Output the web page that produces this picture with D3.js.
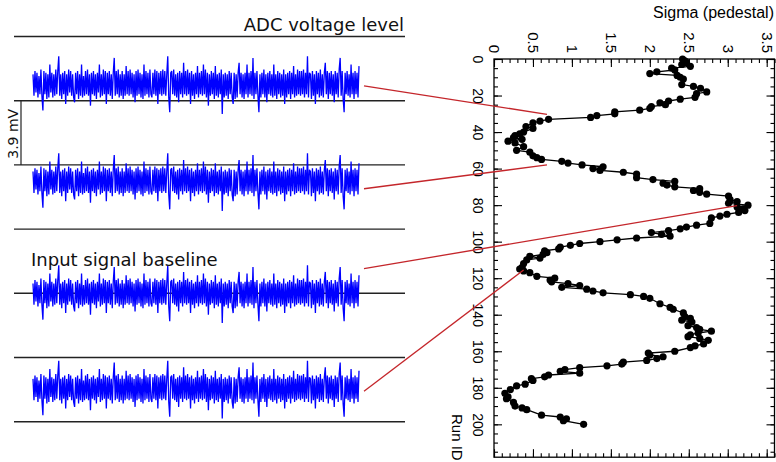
<!DOCTYPE html>
<meta charset="utf-8">
<style>
body { margin: 0; background: #fff; }
svg { display: block; }
.adc line { stroke: #222; stroke-width: 1.4px; }
.trace { fill: none; stroke: #0000ff; stroke-width: 1.3px; stroke-linejoin: bevel; }
.link { stroke: #c4262b; stroke-width: 1.3px; }
.frame { fill: none; stroke: #000; stroke-width: 1.3px; }
.axis path { display: none; }
.axis line { stroke: #000; stroke-width: 1.1px; }
.run-line { fill: none; stroke: #000; stroke-width: 1.3px; }
.lbl { font-family: "DejaVu Sans", sans-serif; font-size: 18px; fill: #111; }
.plbl { font-family: "Liberation Sans", Arial, sans-serif; fill: #000; }
</style>
<body>
<script src="https://d3js.org/d3.v7.min.js"></script>
<script>

// run scan
var runIds = [
  0,1,2,3,4,5,6,7,8,9,
  10,11,14,15,16,18,19,21,22,23,
  24,25,26,27,28,29,30,31,32,33,
  34,35,37,38,40,41,42,43,44,45,
  46,48,50,51,53,54,55,56,57,58,
  59,60,61,62,63,65,66,67,68,69,
  70,71,72,73,74,75,77,78,79,80,
  81,82,83,84,85,86,87,90,91,92,
  93,94,95,96,97,98,99,100,101,102,
  103,104,105,106,107,108,109,110,112,114,
  115,116,117,119,120,121,122,123,124,125,
  126,127,128,129,130,131,134,136,137,139,
  141,142,143,144,146,147,148,149,150,151,
  152,153,154,156,157,158,160,161,162,163,
  164,165,166,167,168,169,170,171,172,173,
  174,175,176,178,179,181,183,185,186,188,
  190,191,192,195,196,197,198,200];
var sigmas = [
  2.42,2.45,2.47,2.41,2.52,2.28,2.32,2.09,2.00,2.35,
  2.39,2.43,2.41,2.56,2.65,2.73,2.60,2.58,2.39,2.24,
  2.13,2.20,2.02,2.00,1.87,1.55,1.55,1.32,1.24,0.70,
  0.59,0.50,0.41,0.50,0.38,0.33,0.27,0.25,0.36,0.18,
  0.27,0.38,0.29,0.46,0.50,0.55,0.61,0.87,0.95,1.13,
  1.40,1.27,1.36,1.66,1.83,1.83,2.04,2.32,2.17,2.22,
  2.32,2.64,2.56,2.64,2.73,3.01,3.03,3.12,3.01,3.26,
  3.12,3.20,3.22,3.14,2.99,2.90,2.79,2.77,2.60,2.47,
  2.39,2.24,2.02,2.15,2.26,1.83,1.58,1.36,1.10,0.98,
  0.85,0.83,0.65,0.68,0.63,0.46,0.59,0.42,0.38,0.36,
  0.33,0.38,0.46,0.55,0.78,0.72,0.74,0.95,1.10,0.87,
  1.19,1.27,1.40,1.75,1.92,2.00,2.13,2.26,2.30,2.43,
  2.45,2.52,2.41,2.54,2.49,2.60,2.64,2.79,2.62,2.52,
  2.49,2.64,2.75,2.69,2.58,2.52,2.32,1.98,2.00,2.17,
  2.09,1.96,1.66,1.64,1.45,1.10,0.91,0.85,1.10,0.70,
  0.65,0.48,0.50,0.40,0.29,0.21,0.14,0.18,0.16,0.25,
  0.27,0.36,0.42,0.61,0.85,0.93,0.89,1.15];

var sigmaTicks = [0, 0.5, 1, 1.5, 2, 2.5, 3, 3.5];
var runTicks = [0, 20, 40, 60, 80, 100, 120, 140, 160, 180, 200];

// pedestal samples in 0.1 mV, the same waveform is shown in every trace
var noise = [
  6,-7,8,-5,7,-8,5,-6,9,-7,-16,8,-6,7,-9,6,-8,12,-5,7,-8,6,-7,9,-6,8,17,-7,6,-9,
  7,-6,8,-12,6,-7,9,-5,8,-7,6,-8,-11,7,-6,8,-9,6,-7,12,-8,5,-7,8,-6,9,-7,6,-13,7,
  -6,8,-7,6,-9,7,-5,12,-8,6,-7,9,-6,8,-12,7,-6,8,-7,6,-9,7,16,-7,8,-6,9,-8,6,-7,
  8,-9,6,-7,11,-6,8,-7,9,-6,7,-8,6,-11,8,-7,9,-6,7,-8,6,-9,12,-7,8,-6,7,-8,9,-6,
  -8,7,-6,9,-7,8,-12,7,-6,8,-7,9,-6,8,-7,6,17,-8,-17,7,8,-6,9,-7,6,-8,7,-11,8,-6,
  7,-8,13,-6,8,-7,9,-6,7,-12,8,-7,6,-9,7,-6,11,-8,7,-6,8,-7,12,-6,9,-8,7,-13,6,-7,
  8,-6,7,-9,11,-7,6,-8,7,-6,9,-18,6,-8,7,-7,6,-9,8,-6,7,-8,-12,7,-9,6,-8,7,13,-6,
  7,-8,6,-9,7,-6,12,-8,7,-6,8,-7,16,-9,7,-6,8,-7,-17,6,-8,7,-6,9,-8,6,-11,7,-6,8,
  -7,6,-8,12,-7,6,-9,8,-6,7,-8,6,-7,9,-12,6,-8,7,-6,8,-9,7,-6,11,-8,6,-7,9,-6,8,
  -7,8,-6,9,-8,7,-6,17,-8,7,6,-9,8,-7,6,-12,8,-6,7,-8,9,-7,6,-8,7,13,-6,8,-9,7,
  -6,8,-7,6,-11,8,-6,7,-8,9,16,-7,8,-9,-17,7,-6,8,-7,6,-8,12,-6,7,-9,8,-6,7,-8,11];

var adcLevels = [0, 3.9, 7.8, 11.7, 15.6, 19.5, 23.4];   // mV
var traceLevels = [20.5, 14.6, 7.8, 2.0];                // mV
var linkOffsets = [-0.1, -0.45, 1.5, -0.15];             // mV, start of the red link
var linkRuns = [30.3, 58, 80.3, 115.5];
var linkSigmas = [0.68, 0.68, 3.12, 0.38];

var width = 776, height = 462;

var svg = d3.select("body").append("svg")
    .attr("width", width)
    .attr("height", height);

// ---- left: traces ----
var v = d3.scaleLinear().domain([0, 23.4]).range([421.7, 36.5]);
var tx = d3.scaleLinear().domain([0, noise.length - 1]).range([33, 359]);

svg.append("g").attr("class", "adc")
  .selectAll("line")
  .data(adcLevels)
  .enter().append("line")
    .attr("x1", 14).attr("x2", 405)
    .attr("y1", function(d) { return v(d); })
    .attr("y2", function(d) { return v(d); });

var line = d3.line();
svg.selectAll(".trace")
    .data(traceLevels)
  .enter().append("path")
    .attr("class", "trace")
    .attr("d", function(lev) {
      return line(noise.map(function(n, i) { return [tx(i), v(lev + n * 0.1)]; }));
    });

// 3.9 mV step marker
svg.append("line")
    .attr("x1", 21).attr("x2", 21)
    .attr("y1", v(adcLevels[5])).attr("y2", v(adcLevels[4]))
    .attr("stroke", "#222").attr("stroke-width", 1.2);
svg.append("text")
    .attr("class", "lbl")
    .style("font-size", "14px")
    .attr("transform", "translate(18," + ((v(adcLevels[5]) + v(adcLevels[4])) / 2 + 1) + ") rotate(-90)")
    .attr("text-anchor", "middle")
    .text("3.9 mV");

svg.append("text")
    .attr("class", "lbl")
    .attr("x", 404).attr("y", 31)
    .attr("text-anchor", "end")
    .text("ADC voltage level");

svg.append("text")
    .attr("class", "lbl")
    .attr("x", 31).attr("y", 266)
    .text("Input signal baseline");

// ---- right: sigma vs run (rotated plot) ----
var x = d3.scaleLinear().domain([0, 3.6]).range([494, 774.5]);
var y = d3.scaleLinear().domain([0, 218]).range([59, 457.2]);

var minorSigma = d3.range(0, 3.61, 0.1);
var minorRun = d3.range(0, 219, 5);

function axisG(axis, tr) {
  return svg.append("g").attr("class", "axis")
      .attr("transform", tr)
      .call(axis);
}

axisG(d3.axisTop(x).tickValues(minorSigma).tickSize(-4).tickFormat(""), "translate(0," + y(0) + ")");
axisG(d3.axisBottom(x).tickValues(minorSigma).tickSize(-4).tickFormat(""), "translate(0," + y(218) + ")");
axisG(d3.axisBottom(x).tickValues(sigmaTicks).tickSize(-8).tickFormat(""), "translate(0," + y(218) + ")");
axisG(d3.axisLeft(y).tickValues(minorRun).tickSize(-4).tickFormat(""), "translate(" + x(0) + ",0)");
axisG(d3.axisRight(y).tickValues(minorRun).tickSize(-4).tickFormat(""), "translate(" + x(3.6) + ",0)");
axisG(d3.axisRight(y).tickValues(runTicks).tickSize(-8).tickFormat(""), "translate(" + x(3.6) + ",0)");

var topAxis = axisG(d3.axisTop(x).tickValues(sigmaTicks).tickSize(-8).tickSizeOuter(0)
    .tickFormat(d3.format("")), "translate(0," + y(0) + ")");
topAxis.selectAll("text")
    .attr("class", "plbl")
    .style("font-size", "15px")
    .attr("transform", "rotate(90)")
    .attr("x", -6).attr("y", 0).attr("dy", "0.36em")
    .attr("text-anchor", "end");

var leftAxis = axisG(d3.axisLeft(y).tickValues(runTicks).tickSize(-8).tickSizeOuter(0),
    "translate(" + x(0) + ",0)");
leftAxis.selectAll("text")
    .attr("class", "plbl")
    .style("font-size", "14px")
    .attr("transform", "rotate(90)")
    .attr("x", 0).attr("y", 21).attr("dy", 0)
    .attr("text-anchor", "middle");

svg.append("rect")
    .attr("class", "frame")
    .attr("x", x(0)).attr("y", y(0))
    .attr("width", x(3.6) - x(0))
    .attr("height", y(218) - y(0));

var pts = runIds.map(function(r, i) { return [x(sigmas[i]), y(r)]; });
svg.append("path")
    .attr("class", "run-line")
    .attr("d", d3.line()(pts));
svg.selectAll(".pt")
    .data(pts)
  .enter().append("circle")
    .attr("class", "pt")
    .attr("cx", function(d) { return d[0]; })
    .attr("cy", function(d) { return d[1]; })
    .attr("r", 3.6)
    .attr("fill", "#000");

svg.append("text")
    .attr("class", "plbl")
    .style("font-size", "16px")
    .attr("x", 774).attr("y", 18)
    .attr("text-anchor", "end")
    .text("Sigma (pedestal)");

svg.append("text")
    .attr("class", "plbl")
    .style("font-size", "15px")
    .attr("transform", "translate(452,414) rotate(90)")
    .text("Run ID");

// ---- red links from each trace to its run ----
svg.selectAll(".link")
    .data(traceLevels)
  .enter().append("line")
    .attr("class", "link")
    .attr("x1", tx.range()[1] + 5)
    .attr("y1", function(d, i) { return v(d + linkOffsets[i]); })
    .attr("x2", function(d, i) { return x(linkSigmas[i]); })
    .attr("y2", function(d, i) { return y(linkRuns[i]); });

</script>
